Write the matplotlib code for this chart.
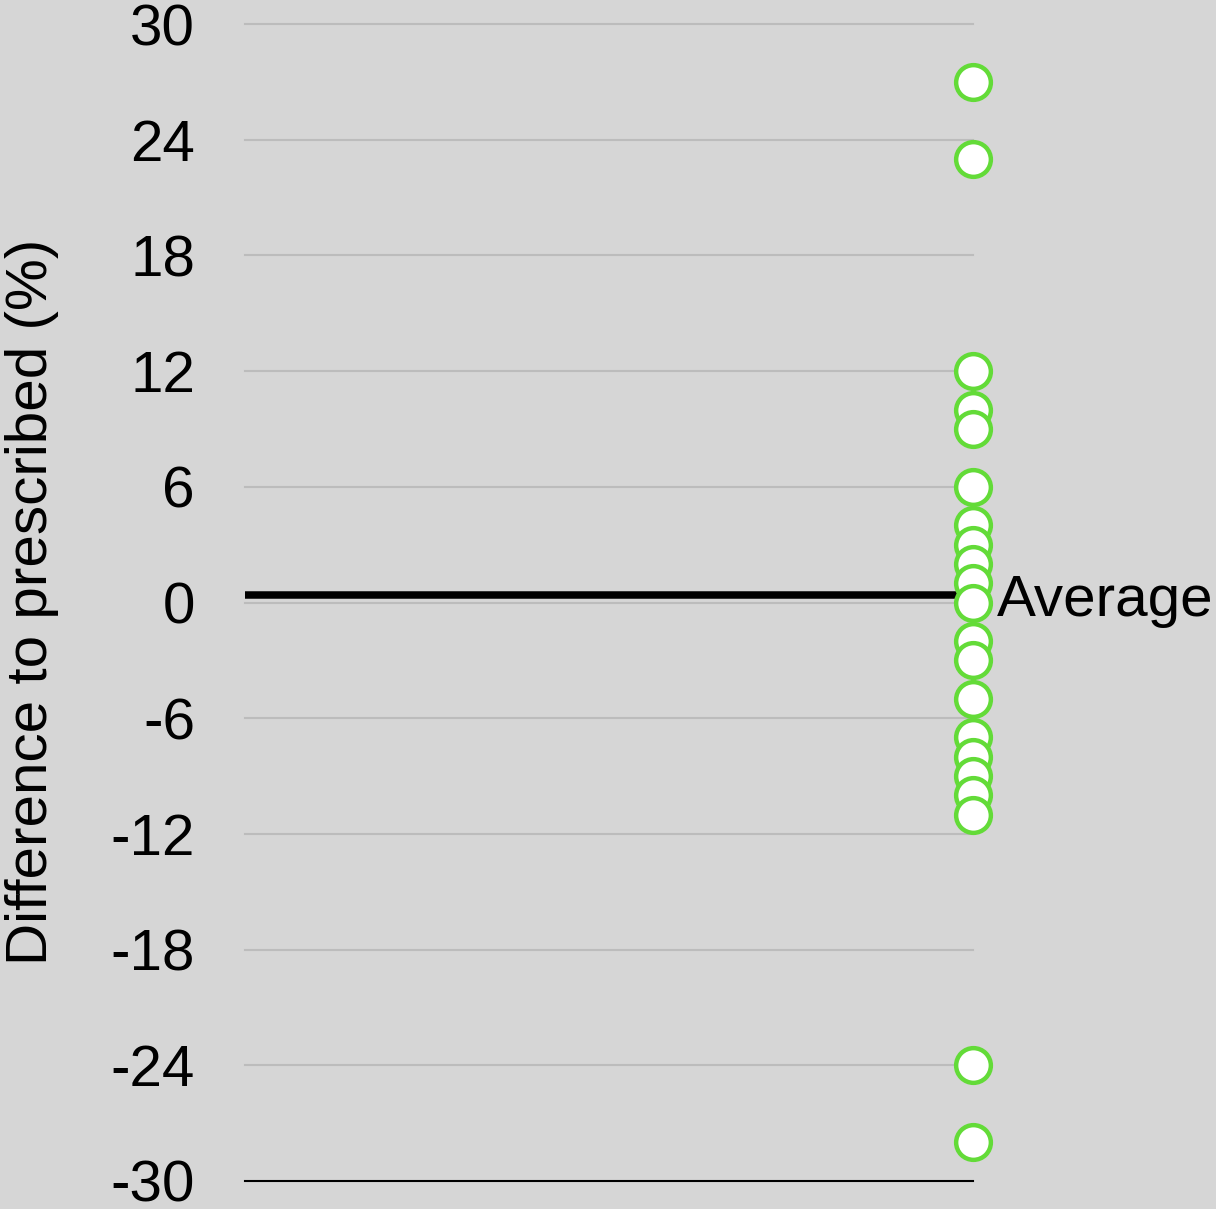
import matplotlib
matplotlib.use("Agg")
import matplotlib.pyplot as plt

# Data
differences = [27, 23, 12, 10, 9, 6, 4, 3, 2, 1, 0, -2, -3, -5, -7, -8, -9, -10, -11, -24, -28]
average_value = 0.4
y_ticks = [-30, -24, -18, -12, -6, 0, 6, 12, 18, 24, 30]
y_label = "Difference to prescribed (%)"
avg_label = "Average"

plt.rcParams['font.family'] = ['Liberation Sans', 'DejaVu Sans']

W, H = 1216, 1209
fig = plt.figure(figsize=(W / 100, H / 100), dpi=100)
bg = '#d6d6d6'
fig.patch.set_facecolor(bg)
left = 245 / W
right = 973 / W
bottom = (H - 1181) / H
top = (H - 24) / H
ax = fig.add_axes([left, bottom, right - left, top - bottom])
ax.set_facecolor(bg)

ax.set_xlim(0, 1)
ax.set_ylim(-30, 30)

for t in y_ticks:
    if t == -30:
        continue
    ax.axhline(t, color='#bcbcbc', lw=1.5, zorder=1, clip_on=False)

ax.plot([0, 1], [average_value, average_value], color='black', lw=5.4,
        solid_capstyle='butt', zorder=2)

ax.plot([1] * len(differences), differences, linestyle='none', marker='o',
        markersize=25, markerfacecolor='white', markeredgecolor='#63db38',
        markeredgewidth=3.2, clip_on=False, zorder=3)

ax.text(1.033, average_value - 0.3, avg_label, fontsize=42, va='center', ha='left',
        transform=ax.transData, clip_on=False)

for s in ['top', 'right', 'left']:
    ax.spines[s].set_visible(False)
ax.spines['bottom'].set_color('black')
ax.spines['bottom'].set_linewidth(1.5)
ax.set_xticks([])
ax.set_yticks(y_ticks)
ax.set_yticklabels([str(t) for t in y_ticks], fontsize=42)
ax.tick_params(axis='y', length=0, pad=36)

fig.text(32 / W, 1 - 602 / H, y_label, fontsize=42, rotation=90,
         ha='center', va='center')

fig.savefig('out.png', dpi=100, facecolor=bg)
